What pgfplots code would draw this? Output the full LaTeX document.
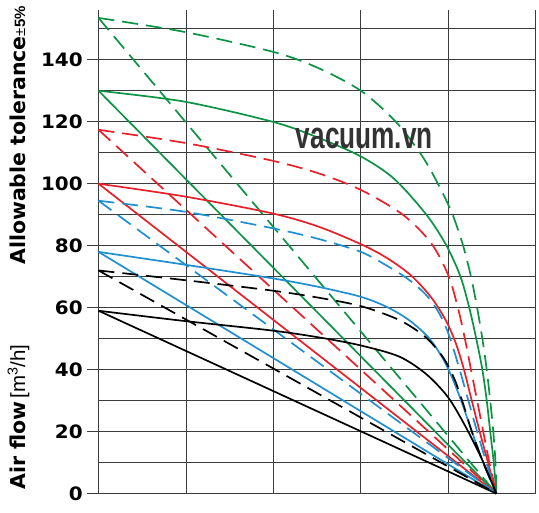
\documentclass[border=0pt]{standalone}
\usepackage{fontspec}
\setmainfont{DejaVu Sans}
\newfontfamily\libsans{Liberation Sans}
\usepackage{pgfplots}
\pgfplotsset{compat=1.18}

\definecolor{cgreen}{HTML}{0B9444}
\definecolor{cred}{HTML}{E8202A}
\definecolor{cblue}{HTML}{1E8FCF}
\definecolor{cgrid}{HTML}{3C3C3C}

\begin{document}
\begin{tikzpicture}[
    sol/.style={line width=1.7bp},
    dsh/.style={line width=1.7bp, dash pattern=on 16bp off 8bp},
]
\begin{axis}[
    name=ax,
    scale only axis,
    width=438bp, height=484.3bp,
    xmin=0, xmax=5, ymin=0, ymax=156,
    axis x line*=bottom, axis y line*=left,
    axis line style={cgrid, line width=1bp, -},
    xtick={0,...,5}, xticklabels={},
    xtick style={draw=none},
    ytick={0,20,...,140},
    minor ytick={10,30,...,150},
    grid=both,
    major grid style={cgrid, line width=0.9bp},
    minor grid style={cgrid, line width=0.9bp},
    tick align=outside,
    major tick length=11.7bp, minor tick length=0pt,
    ytick style={cgrid, line width=0.9bp},
    /pgf/number format/assume math mode=true,
    yticklabel style={font=\fontsize{18.5bp}{18.5bp}\selectfont\bfseries, inner sep=0pt, xshift=-4bp, xscale=1.08},
    every axis y label/.style={at={([xshift=-73.5bp]axis description cs:0,0.508)}, rotate=90, anchor=base},
    ylabel={\fontsize{20.5bp}{20.5bp}\selectfont\bfseries Air flow\hspace{3bp}{\libsans\mdseries[m\textsuperscript{3}/h]}\hspace{80bp}Allowable tolerance{\libsans\fontsize{15bp}{15bp}\selectfont{\mdseries ±}5\%}},
    clip=false,
]
% green dashed
\addplot[cgreen, dsh, smooth] coordinates {
  (0,153.5) (0.98,149) (1.99,142.6) (2.5,137.5) (3.0,130) (3.4,120) (3.7,109)
  (3.9,99) (4.05,90) (4.17,80) (4.26,70) (4.33,60) (4.39,50) (4.44,40)
  (4.48,30) (4.515,20) (4.54,10) (4.55,0)};
\addplot[cgreen, dsh] coordinates {(0,153.5) (4.55,0)};
% green solid
\addplot[cgreen, sol, smooth] coordinates {
  (0,130) (0.98,126.5) (1.99,120) (2.5,115) (3.0,108.8) (3.38,101.6) (3.75,90) (3.98,80)
  (4.14,70) (4.24,60) (4.32,50) (4.39,40) (4.44,30) (4.48,20) (4.52,10) (4.55,0)};
\addplot[cgreen, sol] coordinates {(0,130) (4.55,0)};
% red dashed
\addplot[cred, dsh, smooth] coordinates {
  (0,117.4) (0.98,113.2) (1.96,107.6) (2.5,103.5) (3.0,98) (3.48,90) (3.80,81)
  (4.0,70.5) (4.11,60) (4.19,50) (4.26,40) (4.33,30) (4.40,20) (4.47,10) (4.55,0)};
\addplot[cred, dsh] coordinates {(0,117.4) (4.55,0)};
% red solid
\addplot[cred, sol, smooth] coordinates {
  (0,100) (0.98,95.9) (1.96,90.6) (2.5,86.3) (3.0,80.5) (3.3,76) (3.57,70.5) (3.80,63.5)
  (3.97,56) (4.08,49) (4.17,41) (4.26,31) (4.35,21) (4.45,10.5) (4.55,0)};
\addplot[cred, sol] coordinates {(0,100) (4.55,0)};
% blue dashed
\addplot[cblue, dsh, smooth] coordinates {
  (0,94.5) (0.98,91) (1.96,85.8) (2.5,82.3) (3.0,78) (3.3,73.5) (3.55,69) (3.75,64)
  (3.90,58) (4.01,51) (4.12,41) (4.22,31) (4.32,21) (4.43,10.5) (4.55,0)};
\addplot[cblue, dsh] coordinates {(0,94.5) (4.55,0)};
% blue solid
\addplot[cblue, sol, smooth] coordinates {
  (0,78) (0.98,73.9) (1.96,69.6) (2.5,66.8) (3.0,63.5) (3.3,60.2) (3.55,56) (3.77,50.5)
  (3.93,44) (4.05,37) (4.16,29) (4.27,20) (4.40,10) (4.55,0)};
\addplot[cblue, sol] coordinates {(0,78) (4.55,0)};
% black dashed
\addplot[black, dsh, smooth] coordinates {
  (0,72) (0.98,68.9) (1.96,65.6) (2.5,63.3) (3.0,60.5) (3.44,56) (3.74,50.5) (3.94,44)
  (4.07,37) (4.17,29) (4.27,20) (4.40,10) (4.55,0)};
\addplot[black, dsh] coordinates {(0,72) (4.55,0)};
% black solid
\addplot[black, sol, smooth] coordinates {
  (0,59) (0.98,55.7) (1.96,52.7) (2.5,50.5) (3.0,47.8) (3.44,44.2) (3.75,38.5) (4.0,31)
  (4.2,21.5) (4.37,12) (4.48,4.8) (4.55,0)};
\addplot[black, sol] coordinates {(0,59) (4.55,0)};

\node[anchor=base, text=black!80, font=\libsans\bfseries\fontsize{38bp}{38bp}\selectfont, xscale=0.69, inner sep=0pt]
  at (axis cs:3.04,111.5) {vacuum.vn};
\end{axis}
\path (ax.south west) ++(-98.7bp,-10.5bp) rectangle ++(539bp,505bp);
\end{tikzpicture}
\end{document}
